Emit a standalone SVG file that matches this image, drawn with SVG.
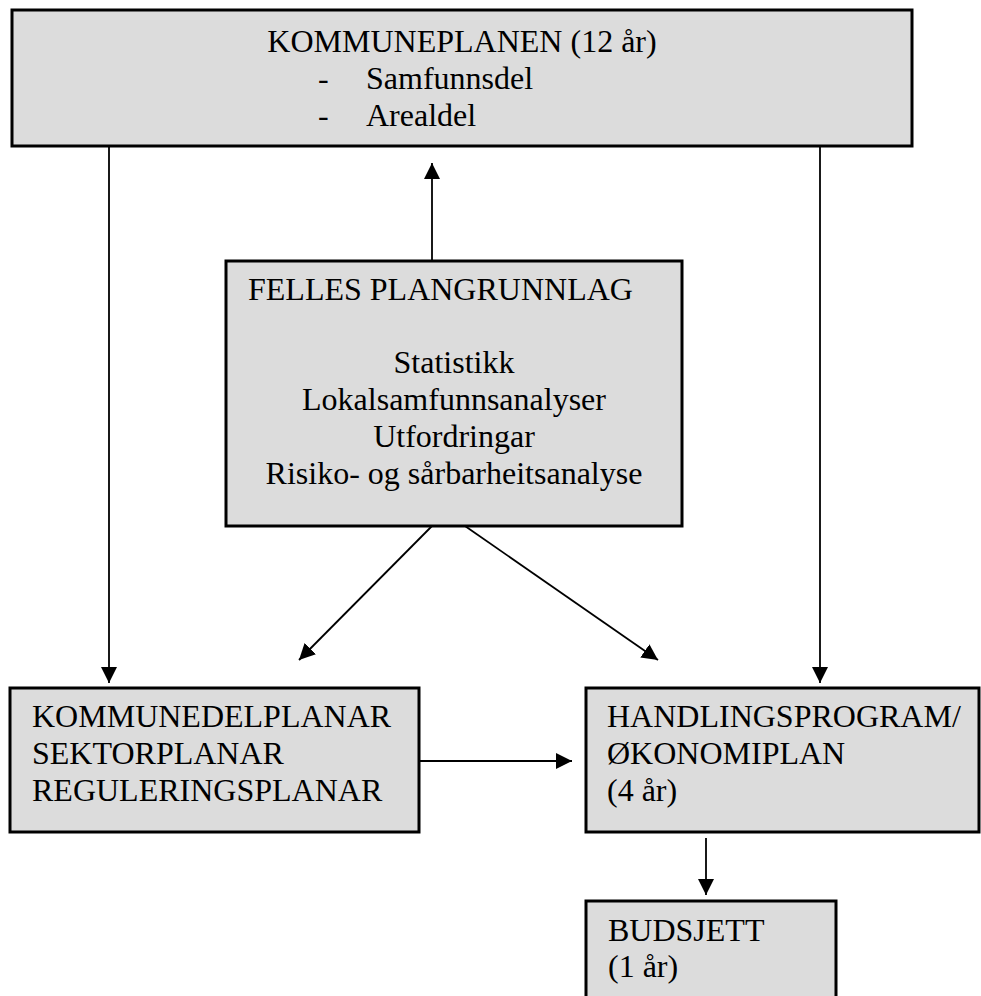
<svg xmlns="http://www.w3.org/2000/svg" width="981" height="996" viewBox="0 0 981 996">
  <style>
    .box { fill: #dcdcdc; stroke: #000; stroke-width: 3; }
    .t { font-family: "Liberation Serif", "Times New Roman", serif; font-size: 32px; fill: #000; }
    .c { text-anchor: middle; }
    .conn { stroke: #000; stroke-width: 1.8; fill: none; marker-end: url(#ah); }
  </style>
  <defs>
    <marker id="ah" markerUnits="userSpaceOnUse" markerWidth="16" markerHeight="16" refX="16" refY="8" orient="auto" viewBox="0 0 16 16">
      <path d="M0,0 L16,8 L0,16 z" fill="#000"/>
    </marker>
  </defs>
  <rect width="981" height="996" fill="#fff"/>

  <g id="connectors">
    <line class="conn" x1="432" y1="261" x2="432" y2="163"/>
    <line class="conn" x1="109" y1="146" x2="109" y2="683"/>
    <line class="conn" x1="820" y1="146" x2="820" y2="683"/>
    <line class="conn" x1="432" y1="526" x2="299" y2="660"/>
    <line class="conn" x1="465" y1="526" x2="658" y2="660"/>
    <line class="conn" x1="419" y1="761" x2="572" y2="761"/>
    <line class="conn" x1="706" y1="838" x2="706" y2="895"/>
  </g>

  <g id="kommuneplanen">
    <rect class="box" x="12" y="10" width="900" height="136"/>
    <text class="t c" x="462" y="52">KOMMUNEPLANEN (12 år)</text>
    <text class="t" x="318" y="89">-</text>
    <text class="t" x="366" y="89">Samfunnsdel</text>
    <text class="t" x="318" y="126">-</text>
    <text class="t" x="366" y="126">Arealdel</text>
  </g>

  <g id="felles">
    <rect class="box" x="226" y="261" width="456" height="265"/>
    <text class="t" x="248" y="300">FELLES PLANGRUNNLAG</text>
    <text class="t c" x="454" y="373">Statistikk</text>
    <text class="t c" x="454" y="410">Lokalsamfunnsanalyser</text>
    <text class="t c" x="454" y="447">Utfordringar</text>
    <text class="t c" x="454" y="484">Risiko- og sårbarheitsanalyse</text>
  </g>

  <g id="kommunedelplanar">
    <rect class="box" x="10" y="688" width="409" height="144"/>
    <text class="t" x="32" y="727">KOMMUNEDELPLANAR</text>
    <text class="t" x="32" y="764">SEKTORPLANAR</text>
    <text class="t" x="32" y="801">REGULERINGSPLANAR</text>
  </g>

  <g id="handlingsprogram">
    <rect class="box" x="586" y="688" width="393" height="144"/>
    <text class="t" x="607" y="727">HANDLINGSPROGRAM/</text>
    <text class="t" x="607" y="764">ØKONOMIPLAN</text>
    <text class="t" x="607" y="801">(4 år)</text>
  </g>

  <g id="budsjett">
    <rect class="box" x="586" y="901" width="250" height="110"/>
    <text class="t" x="608" y="941">BUDSJETT</text>
    <text class="t" x="608" y="977">(1 år)</text>
  </g>
</svg>
